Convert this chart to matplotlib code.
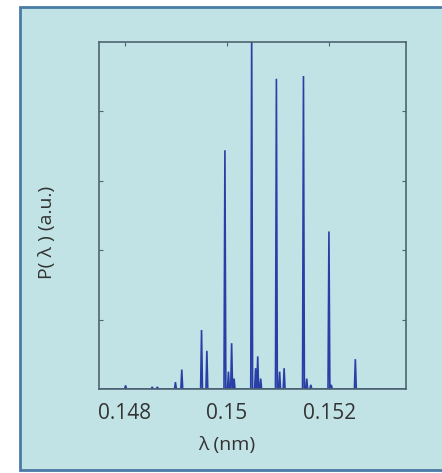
import numpy as np
import matplotlib.pyplot as plt
from matplotlib.patches import Rectangle

plt.rc('font', family=['Open Sans', 'DejaVu Sans'])

# peak positions (nm) and heights (a.u.)
peak_pos = [0.148020, 0.148540, 0.148640, 0.148994, 0.149118, 0.149504,
            0.149608, 0.149961, 0.150030, 0.150092, 0.150140, 0.150484,
            0.150560, 0.150602, 0.150660, 0.150967, 0.151030, 0.151118,
            0.151496, 0.151560, 0.151640, 0.151994, 0.152040, 0.152510]
peak_height = [0.05, 0.03, 0.03, 0.10, 0.28, 0.85,
               0.55, 3.44, 0.25, 0.66, 0.15, 5.20,
               0.30, 0.47, 0.15, 4.47, 0.25, 0.30,
               4.51, 0.15, 0.06, 2.27, 0.06, 0.43]
xticks = [0.148, 0.150, 0.152]
xticklabels = ['0.148', '0.15', '0.152']

bg = '#c2e3e6'
fig = plt.figure(figsize=(4.42, 4.73), dpi=100, facecolor='white')
box = Rectangle((20 / 442, 3 / 473), 430 / 442, 463 / 473,
                transform=fig.transFigure, facecolor=bg,
                edgecolor='#4a7aa6', linewidth=2, zorder=-10)
fig.patches.append(box)

ax = fig.add_axes([99 / 442, 84 / 473, 307 / 442, 347 / 473])
ax.set_zorder(5)
ax.set_facecolor(bg)

# build spike trace from the peak list
w = 0.000018
xs, ys = [0.1475], [0.0]
for c, h in sorted(zip(peak_pos, peak_height)):
    xs += [c - w, c, c + w]
    ys += [0.0, h, 0.0]
xs.append(0.1535)
ys.append(0.0)
ax.plot(xs, ys, color='#2a3fa6', lw=1.2, solid_joinstyle='miter')

ax.set_xlim(0.1475, 0.1535)
ax.set_ylim(0, 5)
ax.set_xticks(xticks)
ax.set_xticklabels(xticklabels)
ax.set_yticks([1, 2, 3, 4])
ax.set_yticklabels([])
ax.tick_params(direction='in', top=True, right=True, length=3,
               color='#4d6470', labelsize=15, pad=10, labelcolor='#333333')
for s in ax.spines.values():
    s.set_color('#4d6470')
    s.set_linewidth(1.2)

ax.set_xlabel('λ (nm)', fontsize=14, color='#333333')
ax.xaxis.set_label_coords(0.415, -0.135)
ax.set_ylabel('P( λ ) (a.u.)', fontsize=14, color='#333333')
ax.yaxis.set_label_coords(-0.14, 0.45)

fig.savefig('out.png', dpi=100, facecolor='white')
